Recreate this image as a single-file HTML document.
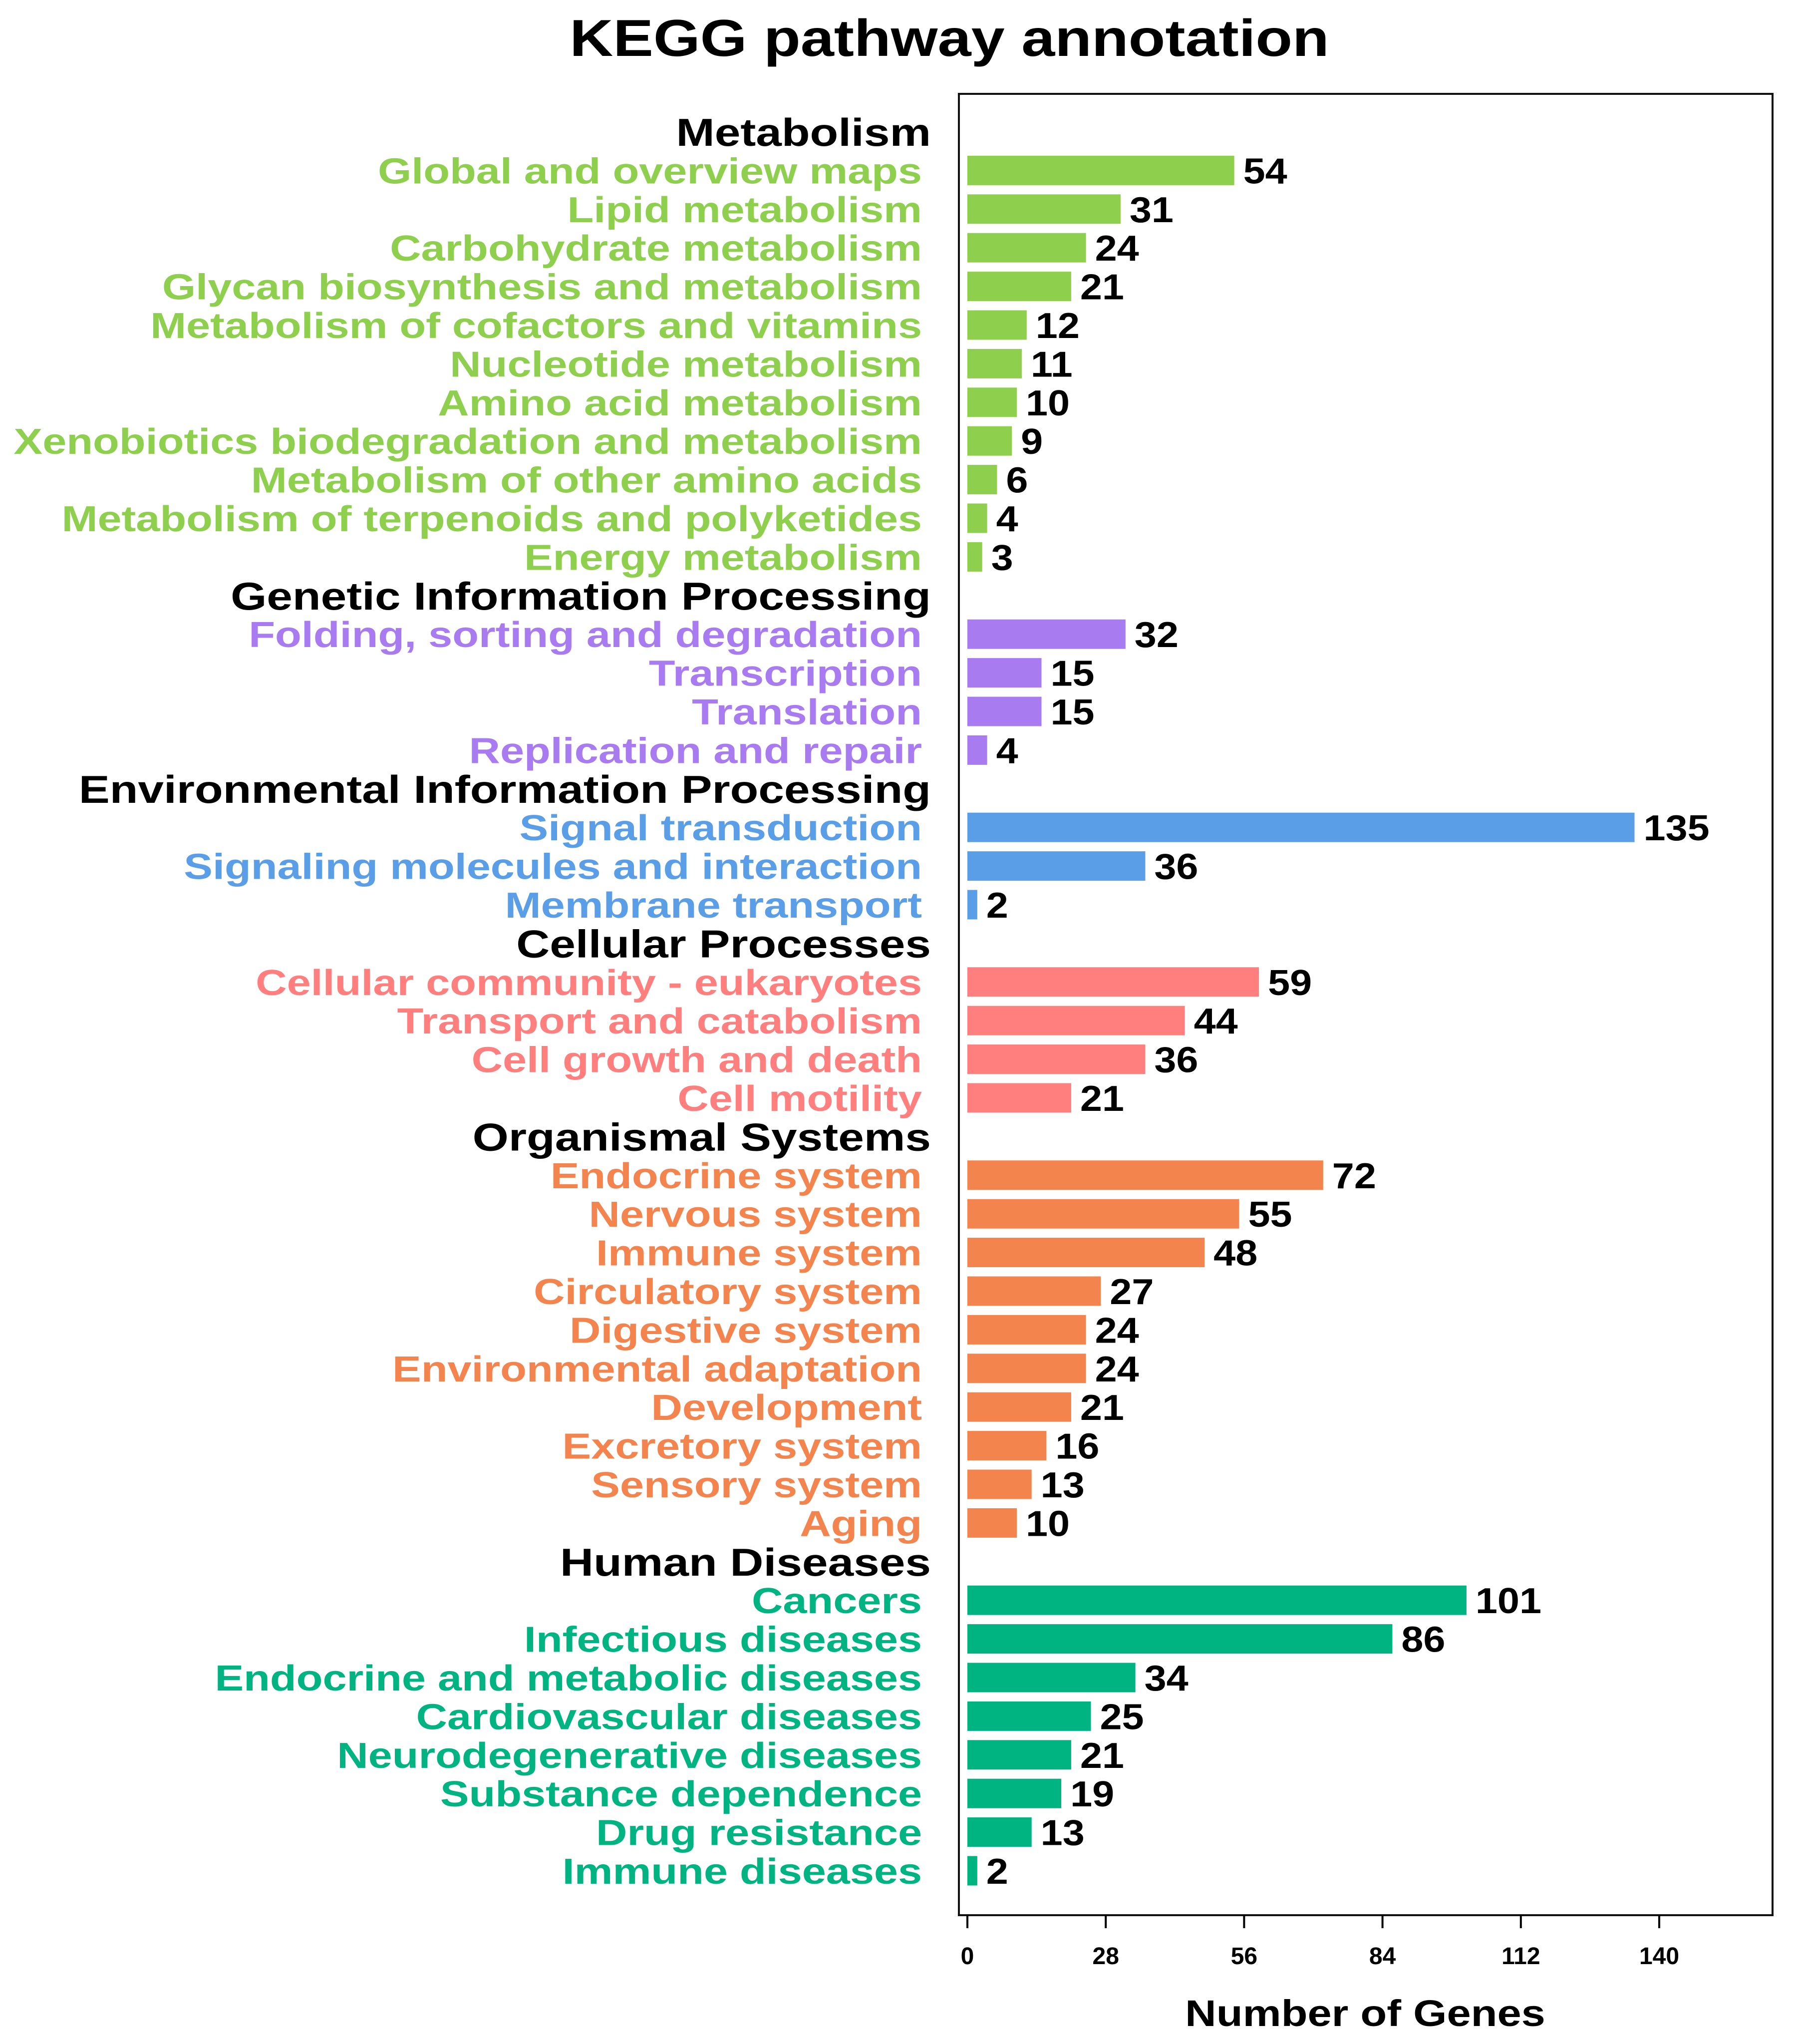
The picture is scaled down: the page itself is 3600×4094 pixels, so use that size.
<!DOCTYPE html>
<html><head><meta charset="utf-8"><style>
html,body{margin:0;padding:0;background:#fff;}
svg{display:block;font-family:"Liberation Sans",Arial,sans-serif;font-weight:bold;}
</style></head><body>
<svg id="chart" width="3600" height="4094" viewBox="0 0 3600 4094">
<text id="title" x="1902" y="112" font-size="104" text-anchor="middle" fill="#000">KEGG pathway annotation</text>
<rect x="1921" y="188" width="1630" height="3648" fill="none" stroke="#111" stroke-width="4"/>
<g id="rows"></g>
<g id="xaxis"></g>
<text id="xtitle" x="2735" y="4058" font-size="74" text-anchor="middle" fill="#000">Number of Genes</text>
</svg>
<script>
const groups = ["Metabolism","Genetic Information Processing","Environmental Information Processing","Cellular Processes","Organismal Systems","Human Diseases"];
const groupColors = ["#8ecf4e","#a97bf0","#5b9ee8","#ff7f7f","#f4844e","#00b482"];
const categories = [
 ["Global and overview maps","Lipid metabolism","Carbohydrate metabolism","Glycan biosynthesis and metabolism","Metabolism of cofactors and vitamins","Nucleotide metabolism","Amino acid metabolism","Xenobiotics biodegradation and metabolism","Metabolism of other amino acids","Metabolism of terpenoids and polyketides","Energy metabolism"],
 ["Folding, sorting and degradation","Transcription","Translation","Replication and repair"],
 ["Signal transduction","Signaling molecules and interaction","Membrane transport"],
 ["Cellular community - eukaryotes","Transport and catabolism","Cell growth and death","Cell motility"],
 ["Endocrine system","Nervous system","Immune system","Circulatory system","Digestive system","Environmental adaptation","Development","Excretory system","Sensory system","Aging"],
 ["Cancers","Infectious diseases","Endocrine and metabolic diseases","Cardiovascular diseases","Neurodegenerative diseases","Substance dependence","Drug resistance","Immune diseases"]
];
const values = [
 [54,31,24,21,12,11,10,9,6,4,3],
 [32,15,15,4],
 [135,36,2],
 [59,44,36,21],
 [72,55,48,27,24,24,21,16,13,10],
 [101,86,34,25,21,19,13,2]
];
const ticks = [0,28,56,84,112,140];

const NS = "http://www.w3.org/2000/svg";
const x0 = 1938, pxPerUnit = 9.9;
function xScale(v){ return x0 + v*pxPerUnit; }
const rowTop = 264, pitch = 77.4, barH = 59;
function yScale(i){ return rowTop + i*pitch; }
function mk(tag, attrs, parent){ const e=document.createElementNS(NS,tag); for(const k in attrs) e.setAttribute(k,attrs[k]); parent.appendChild(e); return e; }
function stretch(el, f){ const w = el.getComputedTextLength(); el.setAttribute('textLength', w*f); el.setAttribute('lengthAdjust','spacingAndGlyphs'); }

stretch(document.getElementById('title'), 1.16);
stretch(document.getElementById('xtitle'), 1.17);

const rows = document.getElementById('rows');
let r = 0;
groups.forEach((g, gi) => {
  const h = mk('text',{x:1865,y:yScale(r)+28,'font-size':78,'text-anchor':'end',fill:'#000'},rows);
  h.textContent = g;
  
  
  stretch(h, 1.19);
  r++;
  categories[gi].forEach((c, ci) => {
    const yc = yScale(r);
    const lab = mk('text',{x:1847,y:yc+26,'font-size':72,'text-anchor':'end',fill:groupColors[gi]},rows);
    lab.textContent = c;
    
    
    stretch(lab, 1.2);
    const v = values[gi][ci];
    const bar = mk('rect',{x:xScale(0),y:yc-barH/2,width:xScale(v)-xScale(0),height:barH,fill:groupColors[gi]},rows);
    
    
    const vl = mk('text',{x:xScale(v)+18,y:yc+26,'font-size':72,fill:'#000'},rows);
    vl.textContent = v;
    
    
    stretch(vl, 1.1);
    r++;
  });
});

const xa = document.getElementById('xaxis');
ticks.forEach(t => {
  const tl = mk('line',{x1:xScale(t),x2:xScale(t),y1:3836,y2:3862,stroke:'#000','stroke-width':4},xa);
  
  
  const tt = mk('text',{x:xScale(t),y:3934,'font-size':48,'text-anchor':'middle',fill:'#000'},xa);
  tt.textContent = t;
  
  
});
</script>
</body></html>
